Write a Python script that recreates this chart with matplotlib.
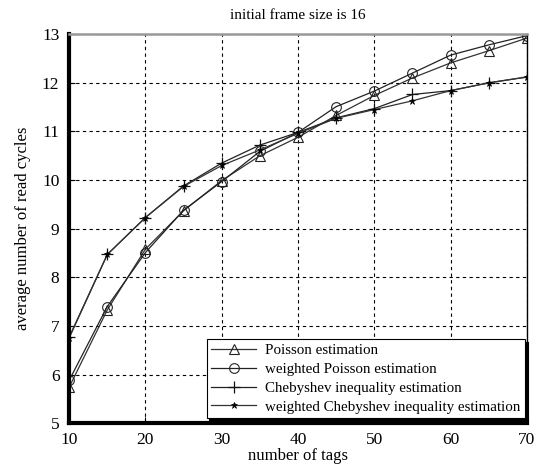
import matplotlib
matplotlib.use("Agg")
import matplotlib.pyplot as plt

x_tags = [10, 15, 20, 25, 30, 35, 40, 45, 50, 55, 60, 65, 70]
poisson = [5.74, 7.33, 8.58, 9.37, 9.99, 10.50, 10.88, 11.33, 11.74, 12.10, 12.41, 12.66, 12.92]
weighted_poisson = [5.88, 7.40, 8.51, 9.38, 9.97, 10.59, 10.98, 11.51, 11.83, 12.20, 12.57, 12.78, 12.97]
chebyshev = [6.77, 8.47, 9.23, 9.88, 10.35, 10.72, 10.98, 11.28, 11.47, 11.76, 11.84, 12.00, 12.12]
weighted_chebyshev = [6.75, 8.47, 9.23, 9.87, 10.30, 10.62, 10.96, 11.27, 11.45, 11.63, 11.84, 12.00, 12.12]

labels = ["Poisson estimation", "weighted Poisson estimation",
          "Chebyshev inequality estimation", "weighted Chebyshev inequality estimation"]
xticks = [10, 20, 30, 40, 50, 60, 70]
yticks = [5, 6, 7, 8, 9, 10, 11, 12, 13]

plt.rcParams['font.family'] = ['Liberation Serif', 'DejaVu Serif']

fig = plt.figure(figsize=(5.36, 4.75), dpi=100)
ax = fig.add_axes([0.129, 0.109, 0.854, 0.819])

ax.plot(x_tags, poisson, color='#333333', lw=0.9, marker='^', ms=7, mfc='none', mec='#222222', mew=0.8, label=labels[0])
ax.plot(x_tags, weighted_poisson, color='#222222', lw=0.9, marker='o', ms=7, mfc='none', mec='#222222', mew=0.8, label=labels[1])
ax.plot(x_tags, chebyshev, color='#222222', lw=0.9, marker='+', ms=9, mec='#111111', mew=0.9, label=labels[2])
ax.plot(x_tags, weighted_chebyshev, color='#333333', lw=0.9, marker='*', ms=5, mfc='black', mec='black', mew=0.5, label=labels[3])

ax.set_xlim(10, 70)
ax.set_ylim(5, 13)
ax.set_xticks(xticks)
ax.set_yticks(yticks)
ax.tick_params(labelsize=12.5, direction='in', length=4, width=0.8)
ax.tick_params(axis='x', pad=6)
ax.tick_params(axis='y', pad=7)
ax.grid(True, color='black', linestyle=(0, (3, 3)), linewidth=0.8)

ax.spines['left'].set_linewidth(3)
ax.spines['bottom'].set_linewidth(3)
ax.spines['top'].set_color('#999999')
ax.spines['top'].set_linewidth(1.8)
ax.spines['right'].set_linewidth(1.0)

ax.set_xlabel("number of tags", fontsize=12, labelpad=0)
ax.set_ylabel("average number of read cycles", fontsize=12, labelpad=8)
ax.set_title("initial frame size is 16", fontsize=11, pad=11)

leg = ax.legend(loc='lower right', bbox_to_anchor=(0.996, 0.013), borderaxespad=0,
                fontsize=10.8, fancybox=False, framealpha=1, edgecolor='black',
                handlelength=3.0, labelspacing=0.35, borderpad=0.3, handletextpad=0.6,
                shadow={'color': 'black', 'alpha': 1})
leg.get_frame().set_linewidth(0.8)

fig.savefig("out.png", dpi=100)
